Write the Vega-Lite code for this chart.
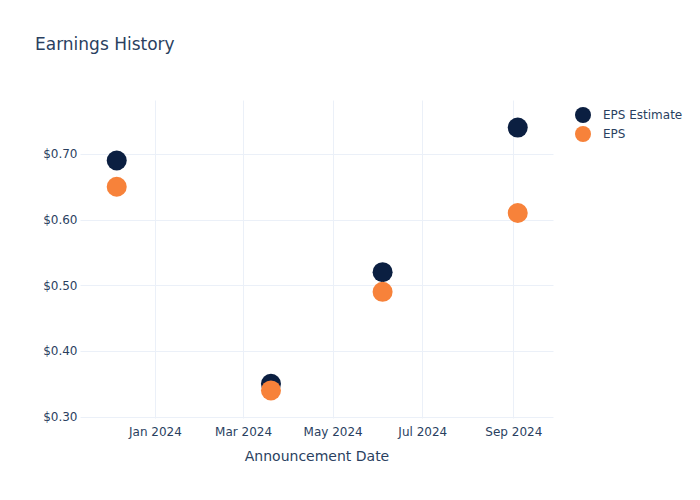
{
  "$schema": "https://vega.github.io/schema/vega-lite/v6.json",
  "width": 473,
  "height": 318,
  "autosize": {"type": "none"},
  "padding": {"left": 80, "top": 100, "right": 147, "bottom": 82},
  "background": "white",
  "title": {
    "text": "Earnings History",
    "anchor": "start",
    "frame": "group",
    "dx": -45,
    "offset": 33,
    "baseline": "alphabetic",
    "fontSize": 17,
    "fontWeight": "normal",
    "font": "DejaVu Sans",
    "color": "#2a3f5f"
  },
  "data": {
    "values": [
      {"date": "2023-12-06", "series": "EPS Estimate", "value": 0.69},
      {"date": "2024-03-20", "series": "EPS Estimate", "value": 0.35},
      {"date": "2024-06-04", "series": "EPS Estimate", "value": 0.52},
      {"date": "2024-09-04", "series": "EPS Estimate", "value": 0.74},
      {"date": "2023-12-06", "series": "EPS", "value": 0.65},
      {"date": "2024-03-20", "series": "EPS", "value": 0.34},
      {"date": "2024-06-04", "series": "EPS", "value": 0.49},
      {"date": "2024-09-04", "series": "EPS", "value": 0.61}
    ]
  },
  "mark": {"type": "circle", "size": 400, "opacity": 1},
  "encoding": {
    "x": {
      "field": "date",
      "type": "temporal",
      "scale": {"type": "utc", "domain": ["2023-11-11", "2024-09-28"], "nice": false},
      "axis": {
        "title": "Announcement Date",
        "values": ["2024-01-01", "2024-03-01", "2024-05-01", "2024-07-01", "2024-09-01"],
        "labelExpr": "utcFormat(datum.value, '%b %Y')",
        "domain": false,
        "ticks": false,
        "labelPadding": 8,
        "titlePadding": 12,
        "labelFontSize": 12,
        "titleFontSize": 14,
        "titleFontWeight": "normal",
        "labelColor": "#2a3f5f",
        "titleColor": "#2a3f5f",
        "labelFont": "DejaVu Sans",
        "titleFont": "DejaVu Sans",
        "gridColor": "#ebf0f8",
        "gridOpacity": 1
      }
    },
    "y": {
      "field": "value",
      "type": "quantitative",
      "scale": {"domain": [0.298, 0.782], "nice": false, "zero": false},
      "axis": {
        "title": null,
        "values": [0.3, 0.4, 0.5, 0.6, 0.7],
        "format": "$.2f",
        "domain": false,
        "ticks": false,
        "labelPadding": 3,
        "labelFontSize": 12,
        "labelColor": "#2a3f5f",
        "labelFont": "DejaVu Sans",
        "gridColor": "#ebf0f8",
        "gridOpacity": 1
      }
    },
    "color": {
      "field": "series",
      "type": "nominal",
      "sort": ["EPS Estimate", "EPS"],
      "scale": {"domain": ["EPS Estimate", "EPS"], "range": ["#0b1f41", "#f7823a"]},
      "legend": {
        "title": null,
        "orient": "none",
        "legendX": 495,
        "legendY": 7,
        "padding": 0,
        "symbolType": "circle",
        "symbolSize": 256,
        "symbolOpacity": 1,
        "symbolStrokeWidth": 0,
        "rowPadding": 3,
        "labelOffset": 12,
        "labelFontSize": 12,
        "labelColor": "#2a3f5f",
        "labelFont": "DejaVu Sans"
      }
    },
    "order": {"field": "series", "sort": "descending"}
  },
  "config": {"view": {"stroke": null}}
}
